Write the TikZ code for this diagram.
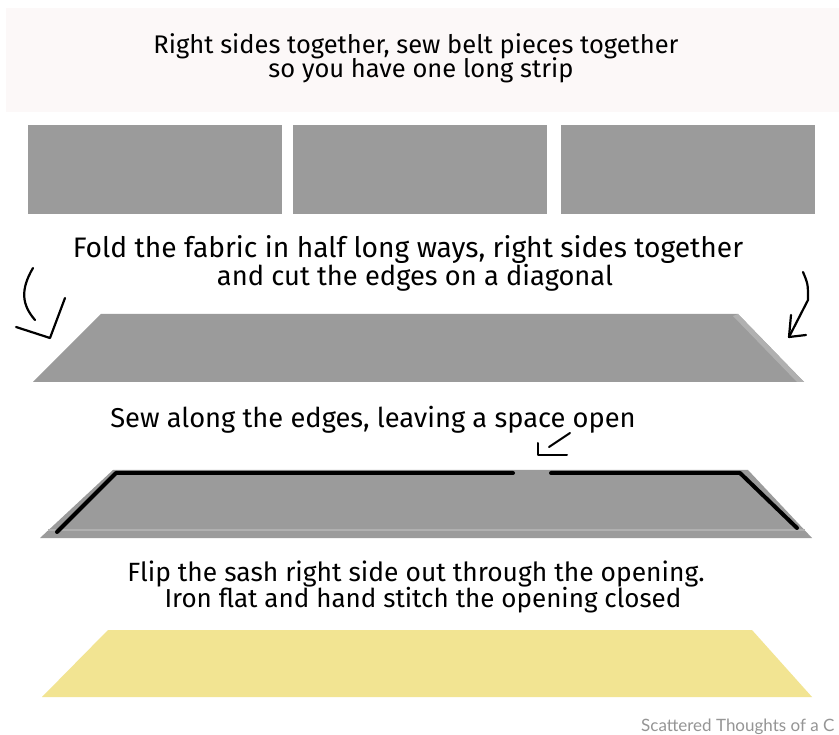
\documentclass[tikz,border=0pt]{standalone}
\usepackage{fontspec}
\setmainfont{Fira Sans}
\newfontfamily\wmfont{Lato}
\definecolor{bandcol}{HTML}{FCF8F8}
\definecolor{fabric}{HTML}{9B9B9B}
\definecolor{fabricedge}{HTML}{B0B0B0}
\definecolor{sashyellow}{HTML}{F2E492}
\definecolor{wmgray}{HTML}{959595}
\begin{document}
\begin{tikzpicture}[x=1pt,y=-1pt,
  caption/.style={anchor=base,inner sep=0pt,font=\fontsize{25.5}{28}\selectfont},
  bigcaption/.style={caption,font=\fontsize{27.3}{30}\selectfont},
  piece/.style={fill=fabric,draw=none,minimum width=254pt,minimum height=89pt,inner sep=0pt,anchor=north west},
  hand/.style={draw=black,line width=2.2pt,line cap=round,line join=round},
  seam/.style={draw=black,line width=4pt,line cap=round,line join=round}]
\useasboundingbox (0,0) rectangle (839,735);
\fill[white] (0,0) rectangle (839,735);
% top band
\fill[bandcol] (6,8) rectangle (839,112);
\node[caption] (t1) at (416,54) {Right sides together, sew belt pieces together};
\node[caption] (t2) at (421,78) {so you have one long strip};
% three pieces
\node[piece] (p1) at (28,125) {};
\node[piece] (p2) at (293,125) {};
\node[piece] (p3) at (561,125) {};
% fold text
\node[bigcaption,font=\fontsize{28.2}{30}\selectfont] (f1) at (408,258) {Fold the fabric in half long ways, right sides together};
\node[bigcaption] (f2) at (415,286) {and cut the edges on a diagonal};
% arrows
\coordinate (la0) at (33,268);
\coordinate (la1) at (35,320);
\coordinate (latip) at (50,338);
\coordinate (laL) at (16,327);
\coordinate (laR) at (65,298);
\draw[hand] (la0) .. controls (20,290) and (22,305) .. (la1);
\draw[hand] (laL) -- (latip) -- (laR);
\coordinate (ra0) at (803,272);
\coordinate (ra1) at (808,300);
\coordinate (ratip) at (789,337);
\coordinate (raU) at (791,315);
\coordinate (raR) at (806,335);
\draw[hand] (ra0) .. controls (808,284) .. (ra1) -- (ratip);
\draw[hand] (raU) -- (ratip) -- (raR);
% trapezoid 1
\coordinate (a1) at (101,314);
\coordinate (a2) at (738,314);
\coordinate (a3) at (804,382);
\coordinate (a4) at (33,382);
\fill[fabric] (a1) -- (a2) -- (a3) -- (a4) -- cycle;
\fill[fabricedge] (a2) -- (a3) -- (797,382) -- (733,316) -- cycle;
% sew text
\node[bigcaption] (s1) at (373,428) {Sew along the edges, leaving a space open};
\coordinate (sa0) at (570,433);
\coordinate (sa1) at (549,447);
\coordinate (satip) at (538,455);
\coordinate (saU) at (538,443);
\coordinate (saR) at (567,455);
\draw[hand,line width=2pt] (sa0) -- (sa1);
\draw[hand,line width=2pt] (saU) -- (satip) -- (saR);
% trapezoid 2
\coordinate (b1) at (113,470);
\coordinate (b2) at (748,470);
\coordinate (b3) at (812,538);
\coordinate (b4) at (40,538);
\fill[fabric] (b1) -- (b2) -- (b3) -- (b4) -- cycle;
\draw[fabricedge,line width=1.5pt] (48,530) -- (805,530);
\coordinate (sl0) at (57,532);
\coordinate (sl1) at (116,473);
\coordinate (sl2) at (513,473);
\coordinate (sr0) at (551,473);
\coordinate (sr1) at (740,473);
\coordinate (sr2) at (797,528);
\draw[seam] (sl0) -- (sl1) -- (sl2);
\draw[seam] (sr0) -- (sr1) -- (sr2);
% flip text
\node[caption,font=\fontsize{26.4}{28}\selectfont] (l1) at (416,581) {Flip the sash right side out through the opening.};
\node[caption,font=\fontsize{26}{28}\selectfont] (l2) at (423,607) {Iron flat and hand stitch the opening closed};
% yellow sash
\coordinate (c1) at (108,630);
\coordinate (c2) at (752,630);
\coordinate (c3) at (812,697);
\coordinate (c4) at (42,697);
\fill[sashyellow] (c1) -- (c2) -- (c3) -- (c4) -- cycle;
% watermark
\node[anchor=base west,inner sep=0pt,text=wmgray,font=\wmfont\fontsize{17}{19}\selectfont] (wm) at (641,731) {Scattered Thoughts of a C};
\end{tikzpicture}
\end{document}
